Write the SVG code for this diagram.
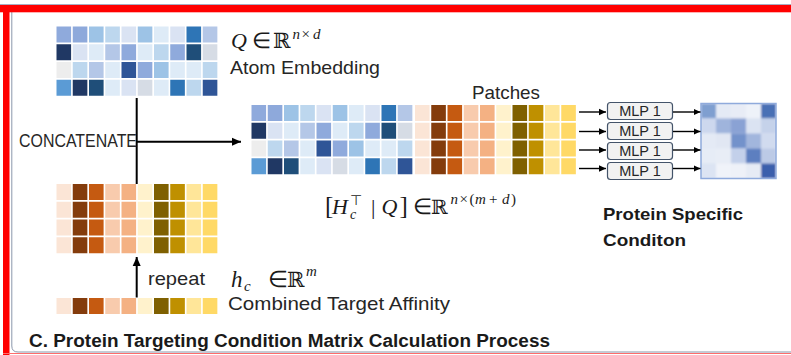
<svg xmlns="http://www.w3.org/2000/svg" xmlns:xlink="http://www.w3.org/1999/xlink" width="791" height="355" viewBox="0 0 791 355">
  <style>
    .lbl { font-family: "Liberation Sans", Arial, sans-serif; font-size: 19px; fill: #262626; }
    .bold { font-family: "Liberation Sans", Arial, sans-serif; font-weight: bold; fill: #1a1a1a; }
    .mlp { font-family: "Liberation Sans", Arial, sans-serif; font-size: 14.5px; fill: #262626; text-anchor: middle; }
    .math { font-family: "Liberation Serif", "Times New Roman", serif; fill: #1a1a1a; }
    .it { font-style: italic; }
    .bb { font-family: "DejaVu Serif", serif; }
    .line { stroke: #000; stroke-width: 2; fill: none; }
    .thin { stroke: #000; stroke-width: 1.4; fill: none; }
    .box { fill: #f2f2f2; stroke: #44546a; stroke-width: 1.2; }
  </style>
  <defs>
    <marker id="head" markerUnits="userSpaceOnUse" markerWidth="10" markerHeight="10" refX="9" refY="5" orient="auto">
      <path d="M0,1 L9,5 L0,9 Z" fill="#000"/>
    </marker>
    <marker id="headS" markerUnits="userSpaceOnUse" markerWidth="8" markerHeight="8" refX="7" refY="4" orient="auto">
      <path d="M0,0.8 L7,4 L0,7.2 Z" fill="#000"/>
    </marker>
    <!-- atom embedding matrix Q: 4 rows x 10 columns -->
    <g id="qcells">
      <rect x="0" y="0" width="14.6" height="16" fill="#8faadc"/>
      <rect x="16.25" y="0" width="14.6" height="16" fill="#8ea9db"/>
      <rect x="32.5" y="0" width="14.6" height="16" fill="#9dc3e6"/>
      <rect x="48.75" y="0" width="14.6" height="16" fill="#bdd7ee"/>
      <rect x="65" y="0" width="14.6" height="16" fill="#dae3f3"/>
      <rect x="81.25" y="0" width="14.6" height="16" fill="#9dc3e6"/>
      <rect x="97.5" y="0" width="14.6" height="16" fill="#deebf7"/>
      <rect x="113.75" y="0" width="14.6" height="16" fill="#dae3f3"/>
      <rect x="130" y="0" width="14.6" height="16" fill="#2e75b6"/>
      <rect x="146.25" y="0" width="14.6" height="16" fill="#b4c7e7"/>

      <rect x="0" y="17.75" width="14.6" height="16" fill="#203864"/>
      <rect x="16.25" y="17.75" width="14.6" height="16" fill="#dae3f3"/>
      <rect x="32.5" y="17.75" width="14.6" height="16" fill="#deebf7"/>
      <rect x="48.75" y="17.75" width="14.6" height="16" fill="#b4c7e7"/>
      <rect x="65" y="17.75" width="14.6" height="16" fill="#8faadc"/>
      <rect x="81.25" y="17.75" width="14.6" height="16" fill="#deebf7"/>
      <rect x="97.5" y="17.75" width="14.6" height="16" fill="#bdd7ee"/>
      <rect x="113.75" y="17.75" width="14.6" height="16" fill="#8faadc"/>
      <rect x="130" y="17.75" width="14.6" height="16" fill="#1f4e79"/>
      <rect x="146.25" y="17.75" width="14.6" height="16" fill="#d6dce5"/>

      <rect x="0" y="35.5" width="14.6" height="16" fill="#ededed"/>
      <rect x="16.25" y="35.5" width="14.6" height="16" fill="#bdd7ee"/>
      <rect x="32.5" y="35.5" width="14.6" height="16" fill="#b4c7e7"/>
      <rect x="48.75" y="35.5" width="14.6" height="16" fill="#deebf7"/>
      <rect x="65" y="35.5" width="14.6" height="16" fill="#2f5597"/>
      <rect x="81.25" y="35.5" width="14.6" height="16" fill="#8faadc"/>
      <rect x="97.5" y="35.5" width="14.6" height="16" fill="#9dc3e6"/>
      <rect x="113.75" y="35.5" width="14.6" height="16" fill="#deebf7"/>
      <rect x="130" y="35.5" width="14.6" height="16" fill="#deebf7"/>
      <rect x="146.25" y="35.5" width="14.6" height="16" fill="#bdd7ee"/>

      <rect x="0" y="53.25" width="14.6" height="16" fill="#5b9bd5"/>
      <rect x="16.25" y="53.25" width="14.6" height="16" fill="#203864"/>
      <rect x="32.5" y="53.25" width="14.6" height="16" fill="#1f4e79"/>
      <rect x="48.75" y="53.25" width="14.6" height="16" fill="#deebf7"/>
      <rect x="65" y="53.25" width="14.6" height="16" fill="#dae3f3"/>
      <rect x="81.25" y="53.25" width="14.6" height="16" fill="#d6dce5"/>
      <rect x="97.5" y="53.25" width="14.6" height="16" fill="#deebf7"/>
      <rect x="113.75" y="53.25" width="14.6" height="16" fill="#2e75b6"/>
      <rect x="130" y="53.25" width="14.6" height="16" fill="#bdd7ee"/>
      <rect x="146.25" y="53.25" width="14.6" height="16" fill="#2f5597"/>
    </g>
    <!-- one row of the target affinity vector h_c -->
    <g id="hrow">
      <rect x="0" y="0" width="14.6" height="16" fill="#fbe5d6"/>
      <rect x="16.25" y="0" width="14.6" height="16" fill="#843c0c"/>
      <rect x="32.5" y="0" width="14.6" height="16" fill="#c55a11"/>
      <rect x="48.75" y="0" width="14.6" height="16" fill="#f8cbad"/>
      <rect x="65" y="0" width="14.6" height="16" fill="#f4b183"/>
      <rect x="81.25" y="0" width="14.6" height="16" fill="#fff2cc"/>
      <rect x="97.5" y="0" width="14.6" height="16" fill="#7f6000"/>
      <rect x="113.75" y="0" width="14.6" height="16" fill="#bf9000"/>
      <rect x="130" y="0" width="14.6" height="16" fill="#ffe699"/>
      <rect x="146.25" y="0" width="14.6" height="16" fill="#ffd966"/>
    </g>
    <g id="hgrid">
      <use xlink:href="#hrow" y="0"/>
      <use xlink:href="#hrow" y="17.75"/>
      <use xlink:href="#hrow" y="35.5"/>
      <use xlink:href="#hrow" y="53.25"/>
    </g>
    <filter id="soft" x="-5%" y="-5%" width="110%" height="110%">
      <feGaussianBlur stdDeviation="1.3"/>
    </filter>
    <clipPath id="condClip">
      <rect x="701" y="103.5" width="75" height="75"/>
    </clipPath>
  </defs>

  <!-- frame -->
  <rect x="0" y="0" width="791" height="355" fill="#fff"/>
  <path d="M11.8,10 V346 Q11.8,352 18,352 H791" fill="none" stroke="#8a97ab" stroke-width="1"/>
  <line x1="0" y1="4.5" x2="791" y2="4.5" stroke="#a7adc2" stroke-width="1"/>
  <rect x="0" y="5" width="791" height="7.3" fill="#ff0000"/>
  <rect x="3" y="5" width="6.5" height="350" fill="#ff0000"/>
  <line x1="3" y1="353.5" x2="791" y2="353.5" stroke="#ff6b6b" stroke-width="1.2"/>

  <!-- Q: atom embedding -->
  <g id="atom-embedding">
    <use xlink:href="#qcells" x="56.5" y="26.5"/>
    <text class="math" font-size="22" y="48.3"><tspan class="it" x="231">Q</tspan><tspan x="252">∈</tspan><tspan class="bb" x="273" font-size="21">ℝ</tspan><tspan class="it" x="292.5" y="38.5" font-size="15">n</tspan><tspan x="301.5" y="38.5" font-size="15">×</tspan><tspan class="it" x="313" y="38.5" font-size="15">d</tspan></text>
    <text class="lbl" x="230" y="74" textLength="150" lengthAdjust="spacingAndGlyphs">Atom Embedding</text>
  </g>

  <!-- H_c: repeated target affinity -->
  <g id="repeated-affinity">
    <use xlink:href="#hgrid" x="56.5" y="184"/>
  </g>

  <!-- h_c: combined target affinity -->
  <g id="target-affinity">
    <use xlink:href="#hrow" x="56.5" y="298"/>
    <text class="math" font-size="23" y="286.5"><tspan class="it" x="231">h</tspan><tspan class="it" x="244" y="291" font-size="15">c</tspan><tspan x="267.5" y="286.5">∈</tspan><tspan class="bb" x="287" font-size="21">ℝ</tspan><tspan class="it" x="306" y="275.5" font-size="15">m</tspan></text>
    <text class="lbl" x="228" y="310" textLength="222" lengthAdjust="spacingAndGlyphs">Combined Target Affinity</text>
  </g>

  <!-- concatenated matrix split into patches -->
  <g id="patches">
    <use xlink:href="#qcells" x="251.5" y="105"/>
    <use xlink:href="#hgrid" x="415" y="105"/>
    <text class="lbl" x="472" y="99" textLength="68" lengthAdjust="spacingAndGlyphs">Patches</text>
    <text class="math" font-size="22" y="213.5"><tspan x="325" font-size="25">[</tspan><tspan class="it" x="332">H</tspan><tspan class="it" x="350" y="219" font-size="14">c</tspan><tspan x="350" y="205" font-size="14">⊤</tspan><tspan x="371" y="213.5">|</tspan><tspan class="it" x="381.5" y="213.5">Q</tspan><tspan x="399.5" font-size="25">]</tspan><tspan x="412.5">∈</tspan><tspan class="bb" x="431" font-size="20">ℝ</tspan><tspan class="it" x="450.5" y="203.5" font-size="15">n</tspan><tspan x="459.5" y="203.5" font-size="15">×</tspan><tspan x="469.5" y="203.5" font-size="15">(</tspan><tspan class="it" x="475" y="203.5" font-size="15">m</tspan><tspan x="489" y="203.5" font-size="15">+</tspan><tspan class="it" x="502" y="203.5" font-size="15">d</tspan><tspan x="511" y="203.5" font-size="15">)</tspan></text>
  </g>

  <!-- shared MLP applied to each patch -->
  <g id="mlp-1">
    <rect class="box" x="607.5" y="102.5" width="65" height="17" rx="3"/>
    <text class="mlp" x="640" y="116">MLP 1</text>
  </g>
  <g id="mlp-2">
    <rect class="box" x="607.5" y="122.5" width="65" height="17" rx="3"/>
    <text class="mlp" x="640" y="136">MLP 1</text>
  </g>
  <g id="mlp-3">
    <rect class="box" x="607.5" y="142.5" width="65" height="17" rx="3"/>
    <text class="mlp" x="640" y="156">MLP 1</text>
  </g>
  <g id="mlp-4">
    <rect class="box" x="607.5" y="162.5" width="65" height="17" rx="3"/>
    <text class="mlp" x="640" y="176">MLP 1</text>
  </g>

  <!-- protein specific condition matrix -->
  <g id="condition">
    <g clip-path="url(#condClip)">
      <g filter="url(#soft)">
        <rect x="696" y="98" width="85" height="85" fill="#e3e9f5"/>
        <rect x="701" y="103.5" width="15" height="15" fill="#7f9fd0"/>
        <rect x="716" y="103.5" width="15" height="15" fill="#e4eaf5"/>
        <rect x="731" y="103.5" width="15" height="15" fill="#e8ecf6"/>
        <rect x="746" y="103.5" width="15" height="15" fill="#eef2f9"/>
        <rect x="761" y="103.5" width="15" height="15" fill="#4a70b5"/>
        <rect x="701" y="118.5" width="15" height="15" fill="#cdd8ee"/>
        <rect x="716" y="118.5" width="15" height="15" fill="#9fb4dc"/>
        <rect x="731" y="118.5" width="15" height="15" fill="#8aa2d4"/>
        <rect x="746" y="118.5" width="15" height="15" fill="#dbe3f2"/>
        <rect x="761" y="118.5" width="15" height="15" fill="#c5d2ea"/>
        <rect x="701" y="133.5" width="15" height="15" fill="#e4eaf5"/>
        <rect x="716" y="133.5" width="15" height="15" fill="#e1e7f3"/>
        <rect x="731" y="133.5" width="15" height="15" fill="#7392cb"/>
        <rect x="746" y="133.5" width="15" height="15" fill="#a2b6dd"/>
        <rect x="761" y="133.5" width="15" height="15" fill="#d1dbef"/>
        <rect x="701" y="148.5" width="15" height="15" fill="#e6ecf6"/>
        <rect x="716" y="148.5" width="15" height="15" fill="#e8edf6"/>
        <rect x="731" y="148.5" width="15" height="15" fill="#c3d0ea"/>
        <rect x="746" y="148.5" width="15" height="15" fill="#5d7fc0"/>
        <rect x="761" y="148.5" width="15" height="15" fill="#bccae6"/>
        <rect x="701" y="163.5" width="15" height="15" fill="#dce4f3"/>
        <rect x="716" y="163.5" width="15" height="15" fill="#f0f3f9"/>
        <rect x="731" y="163.5" width="15" height="15" fill="#eef1f8"/>
        <rect x="746" y="163.5" width="15" height="15" fill="#e6ebf5"/>
        <rect x="761" y="163.5" width="15" height="15" fill="#3a5fac"/>
      </g>
    </g>
    <rect x="701" y="103.5" width="75" height="75" fill="none" stroke="#8faadc" stroke-width="1.5"/>
    <text class="bold" font-size="17" x="603" y="220" textLength="140" lengthAdjust="spacingAndGlyphs">Protein Specific</text>
    <text class="bold" font-size="17" x="603" y="245.5" textLength="83" lengthAdjust="spacingAndGlyphs">Conditon</text>
  </g>

  <!-- connectors -->
  <g id="connectors">
    <line class="line" x1="136.7" y1="98" x2="136.7" y2="184"/>
    <line class="line" x1="136.7" y1="141.7" x2="241" y2="141.7" marker-end="url(#head)"/>
    <line class="line" x1="136.7" y1="297.5" x2="136.7" y2="257" marker-end="url(#head)"/>
    <line class="thin" x1="579" y1="112" x2="606" y2="112" marker-end="url(#headS)"/>
    <line class="thin" x1="579" y1="131.5" x2="606" y2="131.5" marker-end="url(#headS)"/>
    <line class="thin" x1="579" y1="150" x2="606" y2="150" marker-end="url(#headS)"/>
    <line class="thin" x1="579" y1="168.5" x2="606" y2="168.5" marker-end="url(#headS)"/>
    <line class="thin" x1="673" y1="112" x2="700.5" y2="112" marker-end="url(#headS)"/>
    <line class="thin" x1="673" y1="131.5" x2="700.5" y2="131.5" marker-end="url(#headS)"/>
    <line class="thin" x1="673" y1="150" x2="700.5" y2="150" marker-end="url(#headS)"/>
    <line class="thin" x1="673" y1="168.5" x2="700.5" y2="168.5" marker-end="url(#headS)"/>
  </g>

  <!-- labels -->
  <text class="lbl" x="19" y="147" font-size="17" textLength="118" lengthAdjust="spacingAndGlyphs">CONCATENATE</text>
  <text class="lbl" x="148" y="285" textLength="57" lengthAdjust="spacingAndGlyphs">repeat</text>
  <text class="bold" x="29" y="347" font-size="18" textLength="521" lengthAdjust="spacingAndGlyphs">C. Protein Targeting Condition Matrix Calculation Process</text>
</svg>
